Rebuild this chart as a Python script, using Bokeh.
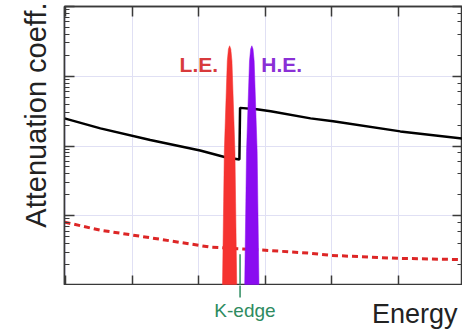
import math
from bokeh.plotting import figure
from bokeh.layouts import column
from bokeh.models import (LinearAxis, LogAxis, Label, Title, SingleIntervalTicker,
                          LogTicker, Range1d)
from bokeh.embed import file_html
from bokeh.resources import INLINE

# ---- data (arbitrary units) ----
x_start, x_end = -0.02, 5.965
y_start, y_end = 1, 10000
k_edge = 2.62

# contrast agent (black, with K-edge jump)
mu_energy = [-0.02, 0.52, 1.27, 2.02, 2.40, 2.61, 2.62, 2.87, 3.08, 3.68, 4.02, 5.03, 5.965]
mu_contrast = [249, 179, 122, 86, 69, 64, 352, 337, 315, 249, 226, 162, 128]

# background tissue (red dashed)
bg_energy = [-0.02, 0.52, 1.42, 2.17, 3.0, 3.68, 4.0, 5.0, 5.965]
mu_background = [8.1, 6.2, 4.6, 3.55, 3.2, 2.9, 2.7, 2.45, 2.35]

# low-energy and high-energy spectra
le_energy = [2.355, 2.373, 2.383, 2.408, 2.428, 2.445, 2.463, 2.481, 2.498, 2.518, 2.543, 2.553, 2.571]
le_counts = [0.9, 16, 83, 440, 1660, 2450, 2735, 2450, 1660, 440, 83, 16, 0.9]
he_energy = [2.689, 2.707, 2.717, 2.742, 2.762, 2.779, 2.797, 2.815, 2.832, 2.852, 2.877, 2.887, 2.905]
he_counts = [0.9, 16, 83, 440, 1660, 2450, 2735, 2450, 1660, 440, 83, 16, 0.9]

AX = "#3a3a3a"
GREEN = "#2e8b60"
FONT = "Liberation Sans"

p = figure(width=462, height=285, x_range=(x_start, x_end), y_range=(y_start, y_end),
           y_axis_type="log", output_backend="svg", toolbar_location=None, title=None,
           min_border_left=64, min_border_right=0, min_border_top=6, min_border_bottom=0)
p.outline_line_color = AX
p.outline_line_width = 1.5
p.background_fill_color = "white"
p.border_fill_color = "white"

p.xaxis.ticker = SingleIntervalTicker(interval=1, num_minor_ticks=0)
p.xgrid.grid_line_color = "#e0e0f4"
p.ygrid.grid_line_color = "#e0e0f4"


def style(ax, minor):
    ax.major_label_text_color = None
    ax.major_label_text_font_size = "1px"
    ax.major_label_standoff = 0
    ax.major_tick_in = 10
    ax.major_tick_out = 0
    ax.minor_tick_in = 5 if minor else 0
    ax.minor_tick_out = 0
    ax.major_tick_line_color = AX
    ax.major_tick_line_width = 1.5
    ax.minor_tick_line_color = AX if minor else None
    ax.minor_tick_line_width = 1.2
    ax.axis_line_color = AX
    ax.axis_line_width = 1.5


style(p.xaxis[0], False)
style(p.yaxis[0], True)
top = LinearAxis(ticker=SingleIntervalTicker(interval=1, num_minor_ticks=0))
style(top, False)
p.add_layout(top, "above")
right = LogAxis(ticker=LogTicker())
style(right, True)
p.add_layout(right, "right")

p.add_layout(Title(text="Attenuation coeff.", align="right", text_font=FONT,
                   text_font_size="29px", text_font_style="normal", text_color="#222222",
                   standoff=25, offset=-4), "left")

# curves
p.line(mu_energy, mu_contrast, line_color="black", line_width=2.5)
p.line(bg_energy, mu_background, line_color="#dd2626", line_width=3, line_dash="6 4")

# K-edge marker (part inside the plot)
p.segment(x0=[k_edge], y0=[2.8], x1=[k_edge], y1=[0.5], line_color=GREEN, line_width=1.5)

# spectra
p.patch(le_energy, le_counts, fill_color="#f53330", line_color="#f53330", line_width=0.5)
p.patch(he_energy, he_counts, fill_color="#8a0cf0", line_color="#8a0cf0", line_width=0.5)

p.add_layout(Label(x=2.0, y=1453, text="L.E.", text_align="center", text_baseline="middle",
                   text_font=FONT, text_font_size="21px", text_font_style="bold",
                   text_color="#d83a3c"))
p.add_layout(Label(x=3.247, y=1453, text="H.E.", text_align="center", text_baseline="middle",
                   text_font=FONT, text_font_size="21px", text_font_style="bold",
                   text_color="#8a30d6"))

# strip under the plot for the x texts (shares the energy axis)
b = figure(width=462, height=46, x_range=p.x_range, y_range=Range1d(46, 0),
           output_backend="svg", toolbar_location=None, title=None, x_axis_location=None,
           y_axis_location=None, min_border_left=64, min_border_right=0,
           min_border_top=0, min_border_bottom=0)
b.outline_line_color = None
b.grid.visible = False
b.background_fill_color = "white"
b.border_fill_color = "white"
b.segment(x0=[k_edge], y0=[-2], x1=[k_edge], y1=[12], line_color=GREEN, line_width=1.5)
b.add_layout(Label(x=k_edge + 0.074, y=25, text="K-edge", text_align="center",
                   text_baseline="alphabetic", text_font=FONT, text_font_size="19px",
                   text_color=GREEN))
b.add_layout(Label(x=5.89, y=28, text="Energy", text_align="right",
                   text_baseline="alphabetic", text_font=FONT, text_font_size="27px",
                   text_color="#222222"))

layout = column(p, b, spacing=0)
open("out.html", "w").write(file_html(layout, INLINE))
